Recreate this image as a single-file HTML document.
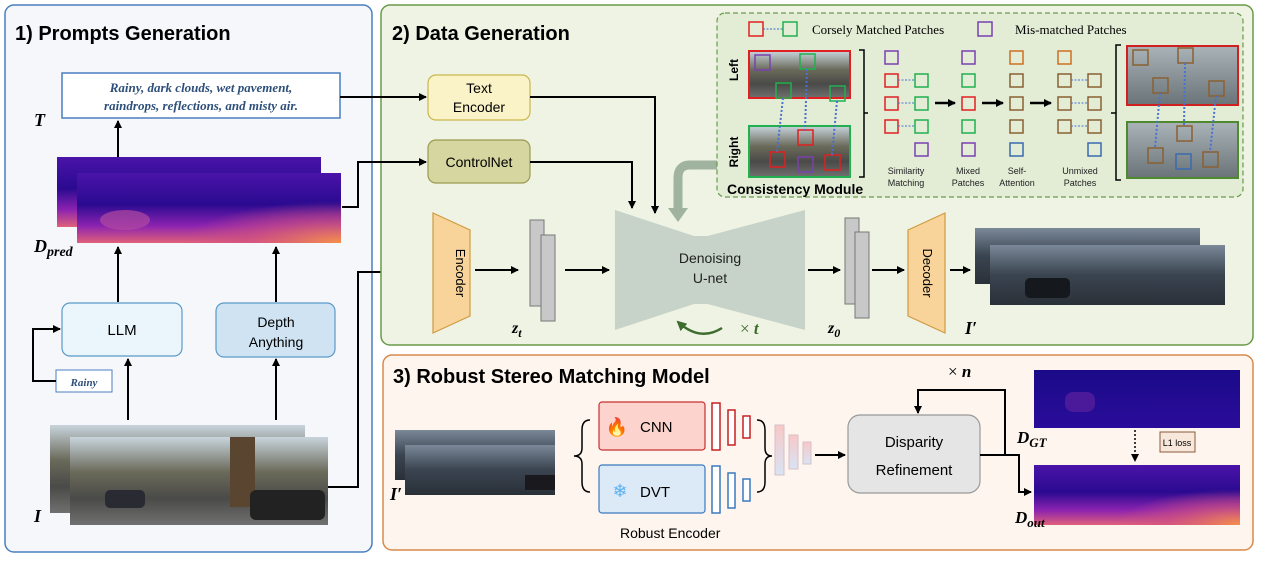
<!DOCTYPE html>
<html><head><meta charset="utf-8"><style>
html,body{margin:0;padding:0;background:#fff;}
svg{display:block;font-family:"Liberation Sans",sans-serif;}
</style></head><body>
<svg width="1267" height="562" viewBox="0 0 1267 562" xmlns="http://www.w3.org/2000/svg">
<defs>
<marker id="ar" markerWidth="8" markerHeight="8" refX="7" refY="4" orient="auto" markerUnits="userSpaceOnUse"><path d="M0,0 L8,4 L0,8 z" fill="#000"/></marker>
<marker id="arg" markerWidth="10" markerHeight="10" refX="8" refY="5" orient="auto" markerUnits="userSpaceOnUse"><path d="M0,0 L10,5 L0,10 z" fill="#3e6b2e"/></marker>
<linearGradient id="dep" x1="0" y1="0" x2="0" y2="1"><stop offset="0" stop-color="#4a14a8"/><stop offset="0.45" stop-color="#2a0a90"/><stop offset="0.75" stop-color="#8a22b0"/><stop offset="1" stop-color="#e0607a"/></linearGradient>
<radialGradient id="blob" cx="1" cy="1" r="0.6"><stop offset="0" stop-color="#f5904a" stop-opacity="1"/><stop offset="0.6" stop-color="#d05080" stop-opacity="0.6"/><stop offset="1" stop-color="#d05080" stop-opacity="0"/></radialGradient>
<linearGradient id="gt" x1="0" y1="0" x2="0" y2="1"><stop offset="0" stop-color="#1a0a88"/><stop offset="1" stop-color="#2a0c9a"/></linearGradient>
<linearGradient id="street" x1="0" y1="0" x2="0" y2="1"><stop offset="0" stop-color="#c8d4dc"/><stop offset="0.4" stop-color="#6a6a5a"/><stop offset="0.7" stop-color="#4a4a48"/><stop offset="1" stop-color="#707070"/></linearGradient>
<linearGradient id="rain" x1="0" y1="0" x2="0" y2="1"><stop offset="0" stop-color="#7a8898"/><stop offset="0.5" stop-color="#3a4450"/><stop offset="1" stop-color="#2a3038"/></linearGradient>
<linearGradient id="fog" x1="0" y1="0" x2="0" y2="1"><stop offset="0" stop-color="#aab4b8"/><stop offset="1" stop-color="#6a7478"/></linearGradient>
<linearGradient id="feat" x1="0" y1="0" x2="0" y2="1"><stop offset="0" stop-color="#f8c8c8"/><stop offset="1" stop-color="#d8e4f4"/></linearGradient>
</defs>

<rect x="5" y="5" width="367" height="547" rx="9" fill="#f5f7fb" stroke="#4a7fc0" stroke-width="1.5"/>
<text x="15" y="40" font-size="20" font-weight="bold">1) Prompts Generation</text>
<rect x="62" y="73" width="278" height="45" fill="#fff" stroke="#4a7fc0" stroke-width="1.5"/>
<text x="201" y="92" font-size="13" font-style="italic" font-weight="bold" fill="#2d4f7a" text-anchor="middle" font-family="Liberation Serif,serif">Rainy, dark clouds, wet pavement,</text>
<text x="201" y="110" font-size="13" font-style="italic" font-weight="bold" fill="#2d4f7a" text-anchor="middle" font-family="Liberation Serif,serif">raindrops, reflections, and misty air.</text>
<text x="34" y="126" font-size="18" font-style="italic" font-weight="bold" font-family="Liberation Serif,serif">T</text>
<line x1="118" y1="157" x2="118" y2="121" stroke="#000" stroke-width="2" marker-end="url(#ar)"/>
<rect x="57" y="157" width="264" height="70" fill="url(#dep)"/>
<rect x="77" y="173" width="264" height="70" fill="url(#dep)"/>
<rect x="77" y="173" width="264" height="70" fill="url(#blob)"/>
<ellipse cx="125" cy="220" rx="25" ry="10" fill="#b04aa0" opacity="0.7"/>
<text x="34" y="252" font-size="18" font-style="italic" font-weight="bold" font-family="Liberation Serif,serif">D<tspan font-size="14" dy="4">pred</tspan></text>
<line x1="118" y1="302" x2="118" y2="247" stroke="#000" stroke-width="2" marker-end="url(#ar)"/>
<line x1="276" y1="302" x2="276" y2="247" stroke="#000" stroke-width="2" marker-end="url(#ar)"/>
<rect x="62" y="303" width="120" height="53" rx="8" fill="#eaf6fc" stroke="#5a9ac8" stroke-width="1.2"/>
<text x="122" y="335" font-size="15" text-anchor="middle">LLM</text>
<rect x="216" y="303" width="119" height="54" rx="8" fill="#cfe3f3" stroke="#5a9ac8" stroke-width="1.2"/>
<text x="276" y="327" font-size="14" text-anchor="middle">Depth</text>
<text x="276" y="347" font-size="14" text-anchor="middle">Anything</text>
<rect x="56" y="370" width="56" height="22" fill="#fff" stroke="#4a7fc0"/>
<text x="84" y="386" font-size="11" font-style="italic" font-weight="bold" fill="#2d4f7a" text-anchor="middle" font-family="Liberation Serif,serif">Rainy</text>
<polyline points="56,381 33,381 33,329 60,329" fill="none" stroke="#000" stroke-width="2" marker-end="url(#ar)"/>
<line x1="128" y1="420" x2="128" y2="359" stroke="#000" stroke-width="2" marker-end="url(#ar)"/>
<line x1="276" y1="420" x2="276" y2="359" stroke="#000" stroke-width="2" marker-end="url(#ar)"/>
<rect x="50" y="425" width="255" height="88" fill="url(#street)"/>
<rect x="70" y="437" width="258" height="88" fill="url(#street)"/>
<rect x="230" y="437" width="25" height="70" fill="#5a4630"/>
<rect x="250" y="490" width="75" height="30" rx="6" fill="#222"/>
<rect x="105" y="490" width="40" height="18" rx="5" fill="#2a2a32"/>
<text x="34" y="522" font-size="18" font-style="italic" font-weight="bold" font-family="Liberation Serif,serif">I</text>
<polyline points="328,487 358,487 358,272 431,272" fill="none" stroke="#000" stroke-width="2" marker-end="url(#ar)"/>

<rect x="381" y="5" width="872" height="340" rx="9" fill="#eef3e4" stroke="#6a9a4a" stroke-width="1.5"/>
<text x="392" y="40" font-size="20" font-weight="bold">2) Data Generation</text>
<line x1="340" y1="97" x2="426" y2="97" stroke="#000" stroke-width="2" marker-end="url(#ar)"/>
<polyline points="342,207 358,207 358,162 426,162" fill="none" stroke="#000" stroke-width="2" marker-end="url(#ar)"/>
<rect x="428" y="75" width="102" height="45" rx="8" fill="#fbf3c8" stroke="#c9b64a" stroke-width="1.2"/>
<text x="479" y="93" font-size="14" text-anchor="middle">Text</text>
<text x="479" y="112" font-size="14" text-anchor="middle">Encoder</text>
<rect x="428" y="140" width="102" height="43" rx="8" fill="#d6d6a0" stroke="#9a9a50" stroke-width="1.2"/>
<text x="479" y="167" font-size="14" text-anchor="middle">ControlNet</text>
<polyline points="530,97 655,97 655,213" fill="none" stroke="#000" stroke-width="2" marker-end="url(#ar)"/>
<polyline points="530,162 632,162 632,208" fill="none" stroke="#000" stroke-width="2" marker-end="url(#ar)"/>
<path d="M717,165 L690,165 Q678,165 678,178 L678,210" fill="none" stroke="#9fb39f" stroke-width="9"/>
<path d="M668,208 L688,208 L678,222 z" fill="#9fb39f"/>
<path d="M615,210 L700,238 L700,302 L615,330 z" fill="#c7d3c8"/>
<path d="M805,210 L700,238 L700,302 L805,330 z" fill="#c7d3c8"/>
<rect x="680" y="236" width="40" height="68" fill="#c7d3c8"/>
<text x="710" y="263" font-size="14" text-anchor="middle" fill="#222">Denoising</text>
<text x="710" y="283" font-size="14" text-anchor="middle" fill="#222">U-net</text>
<path d="M722,328 Q700,342 678,322" fill="none" stroke="#3e6b2e" stroke-width="2.5" marker-end="url(#arg)"/>
<text x="740" y="334" font-size="17" fill="#3e6b2e" font-family="Liberation Serif,serif">× <tspan font-style="italic" font-weight="bold">t</tspan></text>
<path d="M433,213 L470,230 L470,316 L433,333 z" fill="#f8d49a" stroke="#d09a40" stroke-width="1.2"/>
<text x="0" y="0" font-size="13" text-anchor="middle" transform="translate(456,273) rotate(90)">Encoder</text>
<line x1="475" y1="270" x2="518" y2="270" stroke="#000" stroke-width="2" marker-end="url(#ar)"/>
<rect x="530" y="220" width="14" height="86" fill="#c8c8c8" stroke="#777"/>
<rect x="541" y="235" width="14" height="86" fill="#c8c8c8" stroke="#777"/>
<text x="512" y="333" font-size="16" font-style="italic" font-weight="bold" font-family="Liberation Serif,serif">z<tspan font-size="12" dy="4">t</tspan></text>
<line x1="565" y1="270" x2="609" y2="270" stroke="#000" stroke-width="2" marker-end="url(#ar)"/>
<line x1="808" y1="270" x2="840" y2="270" stroke="#000" stroke-width="2" marker-end="url(#ar)"/>
<rect x="845" y="218" width="14" height="86" fill="#c8c8c8" stroke="#777"/>
<rect x="855" y="232" width="14" height="86" fill="#c8c8c8" stroke="#777"/>
<text x="828" y="333" font-size="16" font-style="italic" font-weight="bold" font-family="Liberation Serif,serif">z<tspan font-size="12" dy="4">0</tspan></text>
<line x1="872" y1="270" x2="904" y2="270" stroke="#000" stroke-width="2" marker-end="url(#ar)"/>
<path d="M908,230 L945,213 L945,333 L908,316 z" fill="#f8d49a" stroke="#d09a40" stroke-width="1.2"/>
<text x="0" y="0" font-size="13" text-anchor="middle" transform="translate(923,273) rotate(90)">Decoder</text>
<line x1="950" y1="270" x2="970" y2="270" stroke="#000" stroke-width="2" marker-end="url(#ar)"/>
<rect x="975" y="228" width="225" height="56" fill="url(#rain)"/>
<rect x="990" y="245" width="235" height="60" fill="url(#rain)"/>
<rect x="1025" y="278" width="45" height="20" rx="5" fill="#15181c"/>
<text x="965" y="334" font-size="18" font-style="italic" font-weight="bold" font-family="Liberation Serif,serif">I′</text>

<rect x="717" y="13" width="526" height="184" rx="8" fill="#e3edd6" stroke="#6a9a4a" stroke-width="1.2" stroke-dasharray="5,3"/>
<rect x="749" y="22" width="14" height="14" fill="none" stroke="#e02020" stroke-width="1.5"/>
<line x1="763" y1="29" x2="783" y2="29" stroke="#3a6ad0" stroke-dasharray="2,1.5"/>
<rect x="783" y="22" width="14" height="14" fill="none" stroke="#20b050" stroke-width="1.5"/>
<text x="812" y="34" font-size="13" font-family="Liberation Serif,serif">Corsely Matched Patches</text>
<rect x="978" y="22" width="14" height="14" fill="none" stroke="#7a40b0" stroke-width="1.5"/>
<text x="1015" y="34" font-size="13" font-family="Liberation Serif,serif">Mis-matched Patches</text>
<text x="0" y="0" font-size="12" font-weight="bold" text-anchor="middle" transform="translate(738,70) rotate(-90)">Left</text>
<text x="0" y="0" font-size="12" font-weight="bold" text-anchor="middle" transform="translate(738,152) rotate(-90)">Right</text>
<rect x="749" y="51" width="101" height="47" fill="url(#street)" stroke="#e02020" stroke-width="2"/>
<rect x="749" y="126" width="101" height="51" fill="url(#street)" stroke="#20b050" stroke-width="2"/>
<g fill="none" stroke-width="1.5">
<rect x="755" y="55" width="15" height="15" stroke="#7a40b0"/>
<rect x="800" y="54" width="15" height="15" stroke="#20b050"/>
<rect x="776" y="83" width="15" height="15" stroke="#20b050"/>
<rect x="830" y="86" width="15" height="15" stroke="#20b050"/>
<rect x="798" y="130" width="15" height="15" stroke="#e02020"/>
<rect x="770" y="152" width="15" height="15" stroke="#e02020"/>
<rect x="798" y="157" width="15" height="15" stroke="#7a40b0"/>
<rect x="825" y="155" width="15" height="15" stroke="#e02020"/>
</g>
<g stroke="#4a70d0" stroke-width="2" stroke-dasharray="2,2">
<line x1="783" y1="98" x2="777" y2="152"/><line x1="807" y1="69" x2="805" y2="130"/><line x1="837" y1="101" x2="832" y2="155"/>
</g>
<path d="M859,50 L864,50 L864,177 L859,177 M864,113 L868,113" fill="none" stroke="#000" stroke-width="1.5"/>
<g fill="none" stroke-width="1.5">
<rect x="885" y="51" width="13" height="13" stroke="#7a40b0"/>
<rect x="885" y="74" width="13" height="13" stroke="#e02020"/><rect x="915" y="74" width="13" height="13" stroke="#20b050"/>
<rect x="885" y="97" width="13" height="13" stroke="#e02020"/><rect x="915" y="97" width="13" height="13" stroke="#20b050"/>
<rect x="885" y="120" width="13" height="13" stroke="#e02020"/><rect x="915" y="120" width="13" height="13" stroke="#20b050"/>
<rect x="915" y="143" width="13" height="13" stroke="#7a40b0"/>
<rect x="962" y="51" width="13" height="13" stroke="#7a40b0"/>
<rect x="962" y="74" width="13" height="13" stroke="#20b050"/>
<rect x="962" y="97" width="13" height="13" stroke="#e02020"/>
<rect x="962" y="120" width="13" height="13" stroke="#20b050"/>
<rect x="962" y="143" width="13" height="13" stroke="#7a40b0"/>
<rect x="1010" y="51" width="13" height="13" stroke="#d07020"/>
<rect x="1010" y="74" width="13" height="13" stroke="#8a6030"/>
<rect x="1010" y="97" width="13" height="13" stroke="#8a6030"/>
<rect x="1010" y="120" width="13" height="13" stroke="#8a6030"/>
<rect x="1010" y="143" width="13" height="13" stroke="#3a6ab0"/>
<rect x="1058" y="51" width="13" height="13" stroke="#d07020"/>
<rect x="1058" y="74" width="13" height="13" stroke="#8a6030"/><rect x="1088" y="74" width="13" height="13" stroke="#8a6030"/>
<rect x="1058" y="97" width="13" height="13" stroke="#8a6030"/><rect x="1088" y="97" width="13" height="13" stroke="#8a6030"/>
<rect x="1058" y="120" width="13" height="13" stroke="#8a6030"/><rect x="1088" y="120" width="13" height="13" stroke="#8a6030"/>
<rect x="1088" y="143" width="13" height="13" stroke="#3a6ab0"/>
</g>
<g stroke="#4a70d0" stroke-width="1" stroke-dasharray="2,1.5">
<line x1="898" y1="80" x2="915" y2="80"/><line x1="898" y1="103" x2="915" y2="103"/><line x1="898" y1="126" x2="915" y2="126"/>
<line x1="1071" y1="80" x2="1088" y2="80"/><line x1="1071" y1="103" x2="1088" y2="103"/><line x1="1071" y1="126" x2="1088" y2="126"/>
</g>
<line x1="935" y1="103" x2="955" y2="103" stroke="#000" stroke-width="2.5" marker-end="url(#ar)"/>
<line x1="982" y1="103" x2="1003" y2="103" stroke="#000" stroke-width="2.5" marker-end="url(#ar)"/>
<line x1="1030" y1="103" x2="1051" y2="103" stroke="#000" stroke-width="2.5" marker-end="url(#ar)"/>
<g font-size="9" text-anchor="middle" fill="#222">
<text x="906" y="174">Similarity</text><text x="906" y="186">Matching</text>
<text x="968" y="174">Mixed</text><text x="968" y="186">Patches</text>
<text x="1017" y="174">Self-</text><text x="1017" y="186">Attention</text>
<text x="1080" y="174">Unmixed</text><text x="1080" y="186">Patches</text>
</g>
<path d="M1121,45 L1116,45 L1116,180 L1121,180 M1116,113 L1111,113" fill="none" stroke="#000" stroke-width="1.5"/>
<rect x="1127" y="46" width="111" height="59" fill="url(#fog)" stroke="#d02020" stroke-width="2"/>
<rect x="1127" y="122" width="111" height="56" fill="url(#fog)" stroke="#508a30" stroke-width="2"/>
<g fill="none" stroke="#8a6030" stroke-width="1.5">
<rect x="1133" y="50" width="15" height="15"/><rect x="1178" y="48" width="15" height="15"/>
<rect x="1153" y="78" width="15" height="15"/><rect x="1209" y="81" width="15" height="15"/>
<rect x="1177" y="126" width="15" height="15"/><rect x="1148" y="148" width="15" height="15"/>
<rect x="1203" y="152" width="15" height="15"/>
</g>
<rect x="1176" y="154" width="15" height="15" fill="none" stroke="#3a6ab0" stroke-width="1.5"/>
<g stroke="#4a70d0" stroke-width="2" stroke-dasharray="2,2">
<line x1="1160" y1="93" x2="1155" y2="148"/><line x1="1185" y1="63" x2="1184" y2="126"/><line x1="1216" y1="96" x2="1210" y2="152"/>
</g>
<text x="727" y="194" font-size="14" font-weight="bold">Consistency Module</text>

<rect x="383" y="355" width="870" height="195" rx="9" fill="#fdf5ee" stroke="#d9894a" stroke-width="1.5"/>
<text x="393" y="383" font-size="20" font-weight="bold">3) Robust Stereo Matching Model</text>
<rect x="395" y="430" width="160" height="50" fill="url(#rain)"/>
<rect x="405" y="445" width="150" height="50" fill="url(#rain)"/>
<rect x="525" y="475" width="30" height="15" fill="#1a1a1e"/>
<text x="390" y="500" font-size="18" font-style="italic" font-weight="bold" font-family="Liberation Serif,serif">I′</text>
<path d="M590,420 Q582,420 582,430 L582,448 Q582,456 574,456 Q582,456 582,464 L582,482 Q582,492 590,492" fill="none" stroke="#000" stroke-width="1.5"/>
<rect x="599" y="402" width="106" height="48" rx="3" fill="#fcd3cd" stroke="#c83030" stroke-width="1.2"/>
<text x="617" y="433" font-size="18" text-anchor="middle" fill="#f06020">🔥</text>
<text x="640" y="432" font-size="15">CNN</text>
<rect x="599" y="465" width="106" height="48" rx="3" fill="#dce9f6" stroke="#3a7abf" stroke-width="1.2"/>
<text x="620" y="497" font-size="18" text-anchor="middle" fill="#5ab0f0">❄</text>
<text x="640" y="497" font-size="15">DVT</text>
<g fill="#fff" stroke="#c82020" stroke-width="1.5">
<rect x="712" y="403" width="8" height="47"/><rect x="728" y="410" width="7" height="35"/><rect x="743" y="416" width="7" height="22"/>
</g>
<g fill="#fff" stroke="#3a7abf" stroke-width="1.5">
<rect x="712" y="466" width="8" height="47"/><rect x="728" y="473" width="7" height="35"/><rect x="743" y="479" width="7" height="22"/>
</g>
<path d="M757,420 Q765,420 765,430 L765,448 Q765,456 772,456 Q765,456 765,464 L765,482 Q765,492 757,492" fill="none" stroke="#000" stroke-width="1.5"/>
<g fill="url(#feat)" stroke="#d8c0c8">
<rect x="775" y="425" width="9" height="50"/><rect x="789" y="435" width="9" height="34"/><rect x="803" y="442" width="8" height="22"/>
</g>
<line x1="815" y1="455" x2="845" y2="455" stroke="#000" stroke-width="2" marker-end="url(#ar)"/>
<rect x="848" y="415" width="132" height="78" rx="12" fill="#e5e5e5" stroke="#999" stroke-width="1.2"/>
<text x="914" y="447" font-size="15" text-anchor="middle">Disparity</text>
<text x="914" y="475" font-size="15" text-anchor="middle">Refinement</text>
<polyline points="980,455 1005,455 1005,390 918,390 918,413" fill="none" stroke="#000" stroke-width="2" marker-end="url(#ar)"/>
<text x="948" y="377" font-size="17" font-family="Liberation Serif,serif">× <tspan font-style="italic" font-weight="bold">n</tspan></text>
<polyline points="1005,455 1019,455 1019,492 1031,492" fill="none" stroke="#000" stroke-width="2" marker-end="url(#ar)"/>
<rect x="1034" y="370" width="206" height="58" fill="url(#gt)"/>
<rect x="1065" y="392" width="30" height="20" rx="8" fill="#4a1a9a"/>
<rect x="1034" y="465" width="206" height="60" fill="url(#dep)"/>
<rect x="1034" y="465" width="206" height="60" fill="url(#blob)"/>
<line x1="1135" y1="430" x2="1135" y2="461" stroke="#000" stroke-width="1.5" stroke-dasharray="2,2" marker-end="url(#ar)"/>
<rect x="1160" y="432" width="35" height="20" fill="#f8e8dc" stroke="#8a5a3a"/>
<text x="1177" y="446" font-size="9" text-anchor="middle">L1 loss</text>
<text x="1017" y="443" font-size="17" font-style="italic" font-weight="bold" font-family="Liberation Serif,serif">D<tspan font-size="13" dy="4">GT</tspan></text>
<text x="1015" y="523" font-size="17" font-style="italic" font-weight="bold" font-family="Liberation Serif,serif">D<tspan font-size="13" dy="4">out</tspan></text>
<text x="620" y="538" font-size="14">Robust Encoder</text>
</svg>
</body></html>
